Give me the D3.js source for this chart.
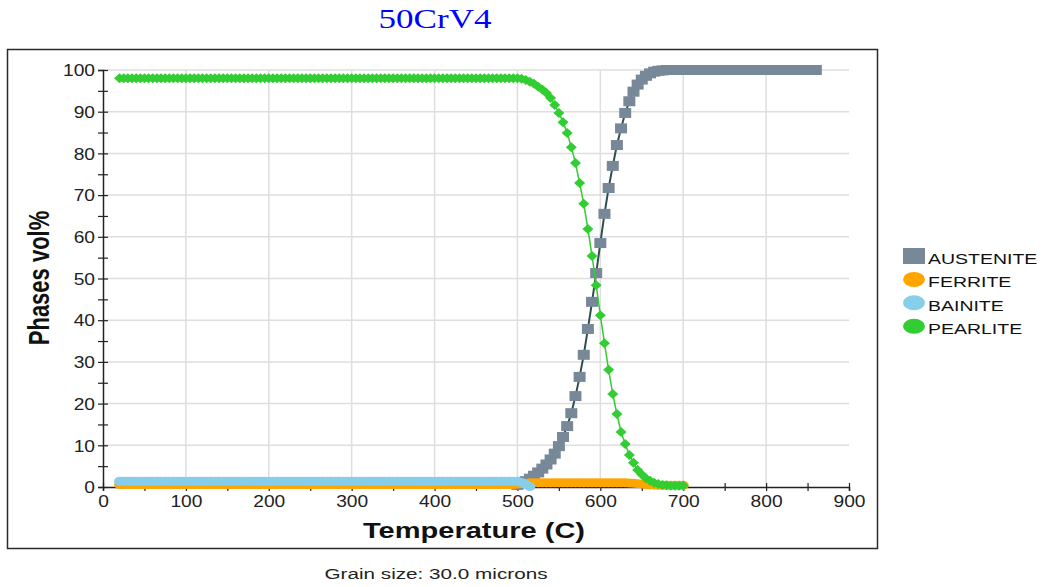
<!DOCTYPE html>
<html>
<head>
<meta charset="utf-8">
<script src="https://cdn.jsdelivr.net/npm/d3@7"></script>
<style>
  body { margin: 0; background: #fff; }
  svg { display: block; font-family: "Liberation Sans", Arial, sans-serif; }
</style>
</head>
<body>
<div id="chart"></div>
<script>
// Temperatures (C) at which phases were sampled
const temps = [
  20, 25, 30, 35, 40, 45, 50, 55, 60, 65, 70, 75, 80, 85, 90, 95,
  100, 105, 110, 115, 120, 125, 130, 135, 140, 145, 150, 155, 160, 165, 170, 175, 180, 185, 190, 195,
  200, 205, 210, 215, 220, 225, 230, 235, 240, 245, 250, 255, 260, 265, 270, 275, 280, 285, 290, 295,
  300, 305, 310, 315, 320, 325, 330, 335, 340, 345, 350, 355, 360, 365, 370, 375, 380, 385, 390, 395,
  400, 405, 410, 415, 420, 425, 430, 435, 440, 445, 450, 455, 460, 465, 470, 475, 480, 485, 490, 495,
  500, 505, 510, 515, 520, 525, 530, 535, 540, 545, 550, 555, 560, 565, 570, 575, 580, 585, 590, 595,
  600, 605, 610, 615, 620, 625, 630, 635, 640, 645, 650, 655, 660, 665, 670, 675, 680, 685, 690, 695,
  700, 705, 710, 715, 720, 725, 730, 735, 740, 745, 750, 755, 760, 765, 770, 775, 780, 785, 790, 795,
  800, 805, 810, 815, 820, 825, 830, 835, 840, 845, 850, 855, 860
];

// Phase volume % per series; each series starts at its own temperature
const austeniteStart = 500;
const austenite = [
  0.5, 0.9, 1.4, 2.0, 2.7, 3.5, 4.4, 5.4, 6.6, 8.0, 9.8, 12, 14.6, 17.7, 21.8, 26.4, 31.7, 37.9, 44.4, 51.3,
  58.5, 65.5, 71.7, 77, 82, 86, 89.7, 92.5, 94.8, 96.5, 97.7, 98.6, 99.2, 99.6, 99.8, 99.9,
  100, 100, 100, 100, 100, 100, 100, 100, 100, 100, 100, 100, 100, 100, 100, 100, 100, 100, 100, 100,
  100, 100, 100, 100, 100, 100, 100, 100, 100, 100, 100, 100, 100, 100, 100, 100, 100
];

const ferriteStart = 20;
const ferrite = [
  0.6, 0.6, 0.6, 0.6, 0.6, 0.6, 0.6, 0.6, 0.6, 0.6, 0.6, 0.6, 0.6, 0.6, 0.6, 0.6,
  0.6, 0.6, 0.6, 0.6, 0.6, 0.6, 0.6, 0.6, 0.6, 0.6, 0.6, 0.6, 0.6, 0.6, 0.6, 0.6,
  0.6, 0.6, 0.6, 0.6, 0.6, 0.6, 0.6, 0.6, 0.6, 0.6, 0.6, 0.6, 0.6, 0.6, 0.6, 0.6,
  0.6, 0.6, 0.6, 0.6, 0.6, 0.6, 0.6, 0.6, 0.6, 0.6, 0.6, 0.6, 0.6, 0.6, 0.6, 0.6,
  0.6, 0.6, 0.6, 0.6, 0.6, 0.6, 0.6, 0.6, 0.6, 0.6, 0.6, 0.6, 0.6, 0.6, 0.6, 0.6,
  0.6, 0.6, 0.6, 0.6, 0.6, 0.6, 0.6, 0.6, 0.6, 0.6, 0.6, 0.6, 0.6, 0.6, 0.6, 0.6,
  0.7, 0.8, 0.9, 1.0, 1.0, 1.0, 1.0, 1.0, 1.0, 1.0, 1.0, 1.0, 1.0, 1.0, 1.0, 1.0, 1.0, 1.0, 1.0, 1.0,
  1.0, 1.0, 1.0, 1.0, 1.0, 1.0, 1.0, 0.95, 0.9, 0.8, 0.7, 0.6, 0.5, 0.45, 0.4, 0.4, 0.4, 0.4, 0.4, 0.4,
  0.4
];

const bainiteStart = 20;
const bainite = [
  1.4, 1.4, 1.4, 1.4, 1.4, 1.4, 1.4, 1.4, 1.4, 1.4, 1.4, 1.4, 1.4, 1.4, 1.4, 1.4,
  1.4, 1.4, 1.4, 1.4, 1.4, 1.4, 1.4, 1.4, 1.4, 1.4, 1.4, 1.4, 1.4, 1.4, 1.4, 1.4,
  1.4, 1.4, 1.4, 1.4, 1.4, 1.4, 1.4, 1.4, 1.4, 1.4, 1.4, 1.4, 1.4, 1.4, 1.4, 1.4,
  1.4, 1.4, 1.4, 1.4, 1.4, 1.4, 1.4, 1.4, 1.4, 1.4, 1.4, 1.4, 1.4, 1.4, 1.4, 1.4,
  1.4, 1.4, 1.4, 1.4, 1.4, 1.4, 1.4, 1.4, 1.4, 1.4, 1.4, 1.4, 1.4, 1.4, 1.4, 1.4,
  1.4, 1.4, 1.4, 1.4, 1.4, 1.4, 1.4, 1.4, 1.4, 1.4, 1.4, 1.4, 1.4, 1.4, 1.4, 1.4,
  1.4, 1.1, 0.6, 0.1
];

const pearliteStart = 20;
const pearlite = [
  98, 98, 98, 98, 98, 98, 98, 98, 98, 98, 98, 98, 98, 98, 98, 98,
  98, 98, 98, 98, 98, 98, 98, 98, 98, 98, 98, 98, 98, 98, 98, 98,
  98, 98, 98, 98, 98, 98, 98, 98, 98, 98, 98, 98, 98, 98, 98, 98,
  98, 98, 98, 98, 98, 98, 98, 98, 98, 98, 98, 98, 98, 98, 98, 98,
  98, 98, 98, 98, 98, 98, 98, 98, 98, 98, 98, 98, 98, 98, 98, 98,
  98, 98, 98, 98, 98, 98, 98, 98, 98, 98, 98, 98, 98, 98, 98, 98,
  98, 97.9, 97.6, 97.2, 96.7, 96.0, 95.3, 94.5, 93.3, 91.6, 89.7, 87.5, 84.9, 81.5, 77.7, 72.9, 67.9, 61.9, 55.4, 48.4,
  41.2, 34.5, 28.1, 22.3, 17.5, 13.2, 10.3, 7.7, 5.8, 4.1, 3.0, 2.1, 1.5, 1.0, 0.7, 0.5, 0.4, 0.3, 0.3, 0.3,
  0.3
];

const phaseNames = ["AUSTENITE", "FERRITE", "BAINITE", "PEARLITE"];

// Axis ticks
const xTicks = [0, 100, 200, 300, 400, 500, 600, 700, 800, 900];
const xMinorTicks = [50, 150, 250, 350, 450, 550, 650, 750, 850];
const xGrid = [100, 200, 300, 400, 500, 600, 700, 800];
const yTicks = [0, 10, 20, 30, 40, 50, 60, 70, 80, 90, 100];
const yMinorTicks = [5, 15, 25, 35, 45, 55, 65, 75, 85, 95];

const chartTitle = "50CrV4";
const xLabel = "Temperature (C)";
const yLabel = "Phases vol%";
const footNote = "Grain size: 30.0 microns";

const width = 1044, height = 587;
const svg = d3.select("#chart").append("svg")
    .attr("width", width)
    .attr("height", height);

const x = d3.scaleLinear().domain([0, 900]).range([103, 849]);
const y = d3.scaleLinear().domain([0, 100]).range([487, 70]);

// text in the original is drawn wide, so stretch it horizontally
function addText(parent, px, py, str, sx, opts) {
    return parent.append("text")
        .attr("transform", `translate(${px},${py}) scale(${sx},1)`)
        .attr("text-anchor", opts.anchor || "start")
        .attr("font-size", opts.size)
        .attr("font-weight", opts.weight || "normal")
        .attr("font-family", opts.family || null)
        .attr("fill", opts.fill || "#111")
        .text(str);
}

// outer frame
svg.append("rect")
    .attr("x", 7.5).attr("y", 49.5)
    .attr("width", 870).attr("height", 499)
    .attr("fill", "none")
    .attr("stroke", "#2a2a2a")
    .attr("stroke-width", 1.5);

// grid
const grid = svg.append("g").attr("stroke", "#dedede").attr("stroke-width", 1.5);
grid.selectAll(".hg").data(yTicks.slice(1)).join("line")
    .attr("x1", x(0)).attr("x2", x(900))
    .attr("y1", d => y(d)).attr("y2", d => y(d));
grid.selectAll(".vg").data(xGrid).join("line")
    .attr("x1", d => x(d)).attr("x2", d => x(d))
    .attr("y1", y(0)).attr("y2", y(100));

// axes
const yAxisG = svg.append("g").attr("transform", `translate(${x(0)},0)`)
    .call(d3.axisLeft(y).tickValues(yTicks.concat(yMinorTicks)).tickSizeOuter(0).tickSize(5)
        .tickFormat(d => yTicks.includes(d) ? d : ""));
yAxisG.selectAll(".tick line").attr("x1", 5).attr("x2", -5).attr("stroke", "#222").attr("stroke-width", 1.2);
yAxisG.select(".domain").attr("stroke", "#222").attr("stroke-width", 1.5);
yAxisG.selectAll(".tick text")
    .attr("x", null).attr("dy", "0.36em")
    .attr("transform", "translate(-8,0) scale(1.2,1)")
    .attr("font-size", 16).attr("font-family", "Liberation Sans, Arial, sans-serif").attr("fill", "#222");

const xAxisG = svg.append("g").attr("transform", `translate(0,${y(0)})`)
    .call(d3.axisBottom(x).tickValues(xTicks.concat(xMinorTicks)).tickSizeOuter(0).tickSize(4)
        .tickFormat(d => xTicks.includes(d) ? d : ""));
xAxisG.selectAll(".tick line").attr("y1", -4).attr("y2", 4).attr("stroke", "#222").attr("stroke-width", 1.2);
xAxisG.select(".domain").attr("stroke", "#222").attr("stroke-width", 1.5);
xAxisG.selectAll(".tick text")
    .attr("y", null).attr("dy", null)
    .attr("transform", "translate(0,20) scale(1.2,1)")
    .attr("font-size", 16).attr("font-family", "Liberation Sans, Arial, sans-serif").attr("fill", "#222");

// series
const series = [
    { name: phaseNames[0], start: austeniteStart, values: austenite, fill: "#778899", line: "#2f4f4f", lw: 2, shape: "square" },
    { name: phaseNames[1], start: ferriteStart, values: ferrite, fill: "#ffa500", line: "#ffa500", lw: 1.5, shape: "circle" },
    { name: phaseNames[2], start: bainiteStart, values: bainite, fill: "#87ceeb", line: "#87ceeb", lw: 1.5, shape: "circle" },
    { name: phaseNames[3], start: pearliteStart, values: pearlite, fill: "#32cd32", line: "#32cd32", lw: 1.5, shape: "diamond" }
];

const line = d3.line().x(d => x(d.t)).y(d => y(d.v));

series.forEach(s => {
    const i0 = temps.indexOf(s.start);
    const pts = s.values.map((v, i) => ({ t: temps[i0 + i], v: v }));
    const g = svg.append("g");

    g.append("path")
        .attr("d", line(pts))
        .attr("fill", "none")
        .attr("stroke", s.line)
        .attr("stroke-width", s.lw);

    if (s.shape === "square") {
        g.selectAll("rect").data(pts).join("rect")
            .attr("x", d => x(d.t) - 6).attr("y", d => y(d.v) - 5)
            .attr("width", 12).attr("height", 10)
            .attr("fill", s.fill);
    } else if (s.shape === "circle") {
        g.selectAll("ellipse").data(pts).join("ellipse")
            .attr("cx", d => x(d.t)).attr("cy", d => y(d.v))
            .attr("rx", 5.5).attr("ry", 4.5)
            .attr("fill", s.fill);
    } else {
        g.selectAll("path.m").data(pts).join("path")
            .attr("class", "m")
            .attr("d", d => `M${x(d.t)},${y(d.v) - 5}L${x(d.t) + 5.5},${y(d.v)}L${x(d.t)},${y(d.v) + 5}L${x(d.t) - 5.5},${y(d.v)}Z`)
            .attr("fill", s.fill);
    }
});

// legend
const legend = svg.append("g").attr("transform", "translate(903,0)");
series.forEach((s, i) => {
    const cy = 256 + i * 23.4;
    if (s.shape === "square") {
        legend.append("rect").attr("x", 0).attr("y", cy - 8).attr("width", 22).attr("height", 16).attr("fill", s.fill);
    } else {
        legend.append("ellipse").attr("cx", 11).attr("cy", cy).attr("rx", 11).attr("ry", 7.5).attr("fill", s.fill);
    }
    addText(legend, 25, cy + 8, s.name, 1.3, { size: 15, fill: "#111" });
});

// titles
addText(svg, 435, 28, chartTitle, 1.3, { size: 27, anchor: "middle", fill: "#0000ff", family: "Liberation Serif, Times New Roman, serif" });
addText(svg, 474, 538, xLabel, 1.32, { size: 22, anchor: "middle", weight: "bold", fill: "#111" });
addText(svg, 436, 579, footNote, 1.38, { size: 15, anchor: "middle", fill: "#222" });

svg.append("text")
    .attr("transform", "translate(49,278) rotate(-90) scale(1,1.3)")
    .attr("text-anchor", "middle")
    .attr("font-size", 22)
    .attr("font-weight", "bold")
    .attr("fill", "#111")
    .text(yLabel);
</script>
</body>
</html>
